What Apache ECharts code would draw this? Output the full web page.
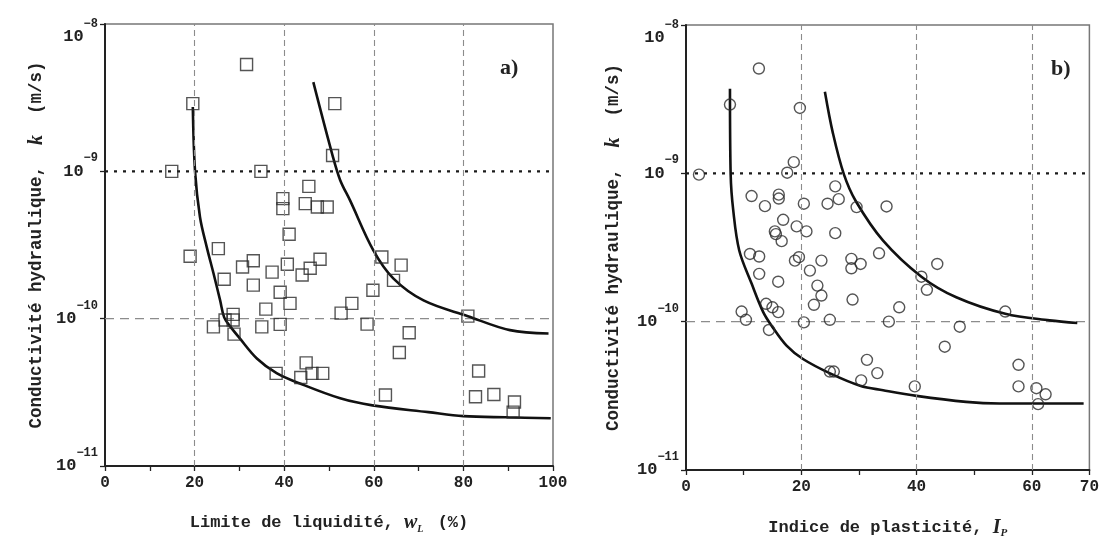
<!DOCTYPE html>
<html>
<head>
<meta charset="utf-8">
<title>Conductivité hydraulique</title>
<script src="https://cdn.jsdelivr.net/npm/echarts@6.0.0/dist/echarts.min.js"></script>
<style>
  html, body { margin: 0; padding: 0; background: #fff; }
  #chart { width: 1102px; height: 544px; }
</style>
</head>
<body>
<div id="chart"></div>
<script>
// a) limite de liquidite wL (%) vs k (m/s)
const wL = [31.6, 19.6, 51.3, 50.8, 14.9, 34.8, 45.5, 39.7, 39.7, 44.7, 47.4, 49.6, 41.1, 25.3,
  19.0, 30.7, 33.1, 37.3, 40.7, 44.0, 45.8, 48.0, 26.6, 33.1, 39.1, 41.3, 35.9, 28.6, 28.6,
  24.2, 26.8, 28.8, 35.0, 39.1, 38.2, 44.9, 43.7, 46.2, 48.6, 61.8, 66.1, 64.4, 59.8, 55.1,
  52.7, 58.5, 67.9, 65.7, 81.0, 83.4, 62.6, 82.7, 86.8, 91.4, 91.1];
const kA = [5.31e-9, 2.88e-9, 2.88e-9, 1.28e-9, 1.0e-9, 1.0e-9, 7.91e-10, 6.53e-10, 5.58e-10,
  6.04e-10, 5.73e-10, 5.73e-10, 3.74e-10, 2.99e-10, 2.65e-10, 2.24e-10, 2.47e-10, 2.07e-10,
  2.34e-10, 1.98e-10, 2.20e-10, 2.53e-10, 1.85e-10, 1.69e-10, 1.51e-10, 1.27e-10, 1.16e-10,
  1.07e-10, 9.8e-11, 8.8e-11, 9.8e-11, 7.85e-11, 8.8e-11, 9.14e-11, 4.25e-11, 5.01e-11,
  3.99e-11, 4.25e-11, 4.25e-11, 2.62e-10, 2.31e-10, 1.82e-10, 1.56e-10, 1.27e-10, 1.09e-10,
  9.18e-11, 8.02e-11, 5.9e-11, 1.04e-10, 4.41e-11, 3.03e-11, 2.95e-11, 3.06e-11, 2.72e-11, 2.32e-11];

// a) courbes enveloppes
const lowAx = [19.6, 20.1, 21.2, 22.7, 24.2, 25.7, 26.6, 27.9, 30, 33.9, 38.3, 43.5, 52.5, 59.7, 72.2, 80, 90, 99.5];
const lowAk = [2.73e-9, 1.0e-9, 4.9e-10, 3.07e-10, 2.04e-10, 1.33e-10, 1.02e-10, 8.9e-11, 7.41e-11,
  5.37e-11, 4.27e-11, 3.63e-11, 2.88e-11, 2.58e-11, 2.32e-11, 2.18e-11, 2.14e-11, 2.11e-11];
const upAx = [46.5, 50.8, 52.5, 54.7, 59.9, 64.4, 71.1, 81.0, 90.4, 99];
const upAk = [4.03e-9, 1.28e-9, 8.71e-10, 6.35e-10, 2.91e-10, 1.87e-10, 1.33e-10, 1.04e-10, 8.36e-11, 7.94e-11];

// b) indice de plasticite Ip vs k (m/s)
const Ip = [12.65, 7.63, 19.76, 2.25, 18.7, 17.56, 11.38, 16.1, 16.1, 13.7, 20.45, 25.9, 24.56, 26.5,
  29.6, 34.8, 16.86, 15.42, 15.6, 19.2, 20.9, 16.6, 25.9, 33.5, 11.1, 12.7, 18.9, 19.6, 23.5,
  28.7, 28.7, 30.3, 21.5, 12.7, 16.0, 22.8, 23.5, 22.2, 28.9, 13.9, 15.0, 16.0, 9.65, 10.4,
  14.4, 20.45, 24.96, 24.96, 25.65, 30.4, 43.6, 40.85, 41.8, 37.0, 35.2, 47.5, 44.9, 55.4,
  31.4, 33.2, 39.7, 57.7, 57.7, 60.8, 62.4, 61.1];
const kB = [5.09e-9, 2.91e-9, 2.76e-9, 9.8e-10, 1.19e-9, 1.01e-9, 7.03e-10, 7.18e-10, 6.76e-10,
  6.01e-10, 6.24e-10, 8.17e-10, 6.24e-10, 6.70e-10, 5.92e-10, 5.98e-10, 4.86e-10, 4.06e-10,
  3.89e-10, 4.39e-10, 4.06e-10, 3.49e-10, 3.95e-10, 2.89e-10, 2.86e-10, 2.75e-10, 2.58e-10,
  2.72e-10, 2.58e-10, 2.65e-10, 2.29e-10, 2.45e-10, 2.21e-10, 2.10e-10, 1.86e-10, 1.75e-10,
  1.50e-10, 1.30e-10, 1.41e-10, 1.32e-10, 1.25e-10, 1.16e-10, 1.17e-10, 1.03e-10, 8.79e-11,
  9.89e-11, 1.03e-10, 4.61e-11, 4.61e-11, 4.02e-11, 2.45e-10, 2.01e-10, 1.64e-10, 1.25e-10,
  1.0e-10, 9.25e-11, 6.78e-11, 1.17e-10, 5.53e-11, 4.50e-11, 3.66e-11, 5.12e-11, 3.66e-11,
  3.56e-11, 3.24e-11, 2.78e-11];

const lowBx = [7.63, 7.75, 8.2, 9.24, 11.4, 13.4, 14.85, 17.45, 20.3, 25.0, 30.2, 34.2, 40.0, 48.6, 54.4, 63.1, 69.0];
const lowBk = [3.72e-9, 9.8e-10, 5.62e-10, 3.02e-10, 1.80e-10, 1.16e-10, 9.4e-11, 6.89e-11, 5.6e-11,
  4.48e-11, 3.70e-11, 3.45e-11, 3.16e-11, 2.88e-11, 2.81e-11, 2.81e-11, 2.81e-11];
const upBx = [24.1, 25.5, 27.4, 29.5, 34.2, 40.85, 46.9, 55.4, 63.1, 67.9];
const upBk = [3.55e-9, 1.86e-9, 9.84e-10, 6.46e-10, 3.52e-10, 2.01e-10, 1.46e-10, 1.13e-10, 1.02e-10, 9.8e-11];

// lignes de reference
const gridXA = [20, 40, 60, 80];
const gridXB = [20, 40, 60];
const xMaxA = 100;
const xMaxB = 70;
const kDotted = 1e-9;
const kDashed = 1e-10;

const MONO = '"Liberation Mono", "DejaVu Sans Mono", monospace';
const SERIF = '"Liberation Serif", serif';
const INK = '#222';

const zip = (xs, ys) => xs.map((x, i) => [x, ys[i]]);

function decadeLabel(v) {
  const e = Math.round(Math.log10(v));
  if (e === -8) return '{tb|10}{ts|\u2212' + (-e) + '}';
  return '{b|10}{s|\u2212' + (-e) + '}';
}
const decadeRich = {
  b: { fontSize: 17, fontWeight: 'bold', fontFamily: MONO, color: INK, verticalAlign: 'middle' },
  s: { fontSize: 12, fontWeight: 'bold', fontFamily: MONO, color: INK, padding: [0, 0, 26, 0], verticalAlign: 'middle' },
  tb: { fontSize: 17, fontWeight: 'bold', fontFamily: MONO, color: INK, padding: [26, 0, 0, 0], verticalAlign: 'middle' },
  ts: { fontSize: 12, fontWeight: 'bold', fontFamily: MONO, color: INK, verticalAlign: 'middle' }
};

function xAxisOf(gridIndex, max, name, rich, showLbl) {
  return {
    type: 'value', gridIndex: gridIndex, min: 0, max: max, interval: 10,
    axisLine: { show: true, onZero: false, lineStyle: { color: INK, width: 2 } },
    axisTick: { show: true, inside: false, length: 5, lineStyle: { color: INK, width: 1.3 } },
    axisLabel: {
      fontFamily: MONO, fontWeight: 'bold', fontSize: 16, color: INK, margin: 9,
      formatter: v => showLbl(v) ? String(v) : ''
    },
    splitLine: { show: false },
    name: name, nameLocation: 'middle', nameGap: 46,
    nameTextStyle: { fontFamily: MONO, fontWeight: 'bold', fontSize: 17, color: INK, rich: rich }
  };
}

function yAxisOf(gridIndex, nameGap) {
  return {
    type: 'log', logBase: 10, gridIndex: gridIndex, min: 1e-11, max: 1e-8,
    axisLine: { show: true, lineStyle: { color: INK, width: 2 } },
    axisTick: { show: true, length: 5, lineStyle: { color: INK, width: 1.3 } },
    minorTick: { show: false },
    axisLabel: { formatter: decadeLabel, rich: decadeRich, margin: 7 },
    splitLine: { show: false },
    name: 'Conductivit\u00e9 hydraulique,  {k|k}  (m/s)',
    nameLocation: 'middle', nameRotate: 90, nameGap: nameGap,
    nameTextStyle: {
      fontFamily: MONO, fontWeight: 'bold', fontSize: 17.5, color: INK,
      rich: { k: { fontFamily: SERIF, fontStyle: 'italic', fontWeight: 'bold', fontSize: 20, color: INK } }
    }
  };
}

// vertical dashed grid lines
function vLines(xs) {
  return {
    silent: true, symbol: ['none', 'none'], animation: false,
    label: { show: false },
    emphasis: { disabled: true },
    lineStyle: { type: [6, 4], color: '#8c8c8c', width: 1.1 },
    data: xs.map(v => ({ xAxis: v }))
  };
}

// horizontal reference lines as plain line series
function hLine(idx, xMax, k, style) {
  return {
    type: 'line', xAxisIndex: idx, yAxisIndex: idx, data: [[0, k], [xMax, k]],
    showSymbol: false, symbol: 'none', z: 1, silent: true, lineStyle: style
  };
}
const dashH = { type: [9, 6], color: '#8c8c8c', width: 1.1 };
const dots = { type: [3, 6], color: '#1a1a1a', width: 2.4 };

function curve(xi, data, marks) {
  const s = {
    type: 'line', xAxisIndex: xi, yAxisIndex: xi, data: data, smooth: 0.35,
    showSymbol: false, symbol: 'none', z: 2, silent: true,
    lineStyle: { color: '#111', width: 2.6 }
  };
  if (marks) s.markLine = marks;
  return s;
}

const chart = echarts.init(document.getElementById('chart'), null, { renderer: 'canvas' });

const option = {
  animation: false,
  backgroundColor: '#fff',
  grid: [
    { left: 105, top: 24, width: 448, height: 442, show: true, borderColor: '#777', borderWidth: 1.5 },
    { left: 686, top: 25, width: 404, height: 445, show: true, borderColor: '#777', borderWidth: 1.5 }
  ],
  graphic: [
    { type: 'text', left: 500, top: 57, style: { text: 'a)', font: 'bold 22px "Liberation Serif", serif', fill: INK } },
    { type: 'text', left: 1051, top: 58, style: { text: 'b)', font: 'bold 22px "Liberation Serif", serif', fill: INK } }
  ],
  xAxis: [
    xAxisOf(0, xMaxA, 'Limite de liquidit\u00e9, {w|w}{sub|L} (%)', {
      w: { fontFamily: SERIF, fontStyle: 'italic', fontWeight: 'bold', fontSize: 20, color: INK },
      sub: { fontFamily: SERIF, fontStyle: 'italic', fontSize: 10, color: INK, padding: [12, 4, 0, 0] }
    }, v => v % 20 === 0),
    xAxisOf(1, xMaxB, 'Indice de plasticit\u00e9, {w|I}{sub|P}', {
      w: { fontFamily: SERIF, fontStyle: 'italic', fontWeight: 'bold', fontSize: 20, color: INK },
      sub: { fontFamily: SERIF, fontStyle: 'italic', fontSize: 11, color: INK, padding: [12, 0, 0, 0] }
    }, v => v % 20 === 0 || v === 70)
  ],
  yAxis: [yAxisOf(0, 58), yAxisOf(1, 62)],
  series: [
    hLine(0, xMaxA, kDashed, dashH),
    hLine(0, xMaxA, kDotted, dots),
    curve(0, zip(lowAx, lowAk), vLines(gridXA)),
    curve(0, zip(upAx, upAk)),
    {
      type: 'scatter', xAxisIndex: 0, yAxisIndex: 0, data: zip(wL, kA), z: 3,
      symbol: 'rect', symbolSize: 12,
      itemStyle: { color: 'rgba(255,255,255,0)', borderColor: '#2a2a2a', borderWidth: 1.4 }
    },
    hLine(1, xMaxB, kDashed, dashH),
    hLine(1, xMaxB, kDotted, dots),
    curve(1, zip(lowBx, lowBk), vLines(gridXB)),
    curve(1, zip(upBx, upBk)),
    {
      type: 'scatter', xAxisIndex: 1, yAxisIndex: 1, data: zip(Ip, kB), z: 3,
      symbol: 'circle', symbolSize: 11,
      itemStyle: { color: 'rgba(255,255,255,0)', borderColor: '#2a2a2a', borderWidth: 1.4 }
    }
  ]
};

chart.setOption(option);
</script>
</body>
</html>
